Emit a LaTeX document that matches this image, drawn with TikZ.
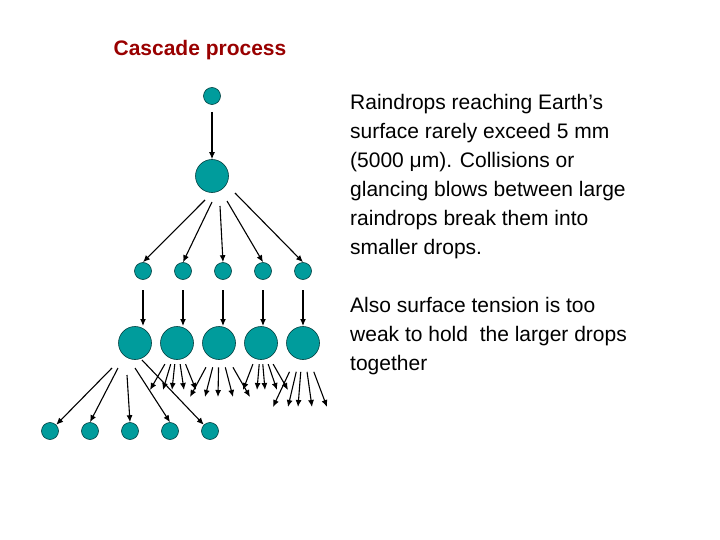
\documentclass[tikz,border=0pt]{standalone}
\usepackage{fontspec}
\setmainfont{Liberation Sans}
\usetikzlibrary{calc,arrows.meta}
\begin{document}
\begin{tikzpicture}[x=1pt,y=-1pt,
  arr/.style={-{Latex[length=7pt,width=6pt]},line width=1.1pt}]
\useasboundingbox (0,0) rectangle (720,540);
\definecolor{tt}{HTML}{009C9C}
\tikzset{drop/.style={circle,fill=tt,draw=teal!50!black,line width=0.6pt,inner sep=0pt,minimum size=#1}}
\node[text=red!60!black,font=\bfseries\fontsize{21}{24}\selectfont] (title) at (200,50) {Cascade process};
\node[anchor=north west,align=left,font=\fontsize{21}{29}\selectfont,inner sep=0pt] (txt) at (350,94)
 {Raindrops reaching Earth’s\\surface rarely exceed 5 mm\\(5000 μm). Collisions or\\glancing blows between large\\raindrops break them into\\smaller drops.\\[29pt]Also surface tension is too\\weak to hold\ \ the larger drops\\together};
\node[drop=17pt] (t) at (212,96) {};
\node[drop=33pt] (b) at (212,176) {};
\draw[arr] (212,112) -- (b.north);
\foreach \i/\x/\sx/\sy in {1/143/205/200,2/183/212/202,3/223/220/206,4/263/227/201,5/303/235/193}{
  \node[drop=17pt] (s\i) at (\x,271) {};
  \draw[arr] (\sx,\sy) -- (s\i.north);
  \draw[arr] (\x,290) -- (\x,326);
}
\foreach \i/\x in {1/135,2/177,3/219,4/261,5/303}{
  \node[drop=33pt] (B\i) at (\x,343) {};
}
\foreach \i/\x in {1/50,2/90,3/130,4/170,5/210}{\node[drop=17pt] (d\i) at (\x,431) {};}
\draw[arr] (112,368) -- (d1.north east);
\draw[arr] (118,368) -- (d2.north);
\draw[arr] (127,375) -- (d3.north);
\draw[arr] (135,368) -- (d4.north);
\draw[arr] (142,360) -- (d5.north west);
\foreach \s/\ex/\ey in {B2/150/390,B2/163/390,B2/172/390,B2/184/390,B2/196/390,
  B3/190/397,B3/205/397,B3/218/397,B3/233/397,B3/250/397,
  B4/243/390,B4/257/390,B4/265/390,B4/277/390,B4/288/390,
  B5/273/407,B5/288/407,B5/298/407,B5/312/407,B5/327/407}{
  \coordinate (e) at (\ex,\ey);
  \draw[arr] ($(\s)!0.45!(e)$) -- (e);
}
\end{tikzpicture}
\end{document}
